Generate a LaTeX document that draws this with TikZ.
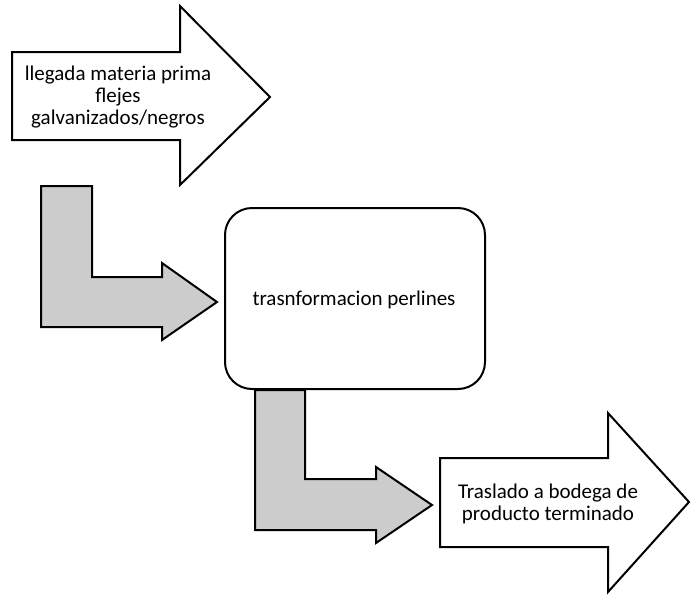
\documentclass[tikz,border=0pt]{standalone}
\usepackage{fontspec}
\setmainfont{Carlito}
\definecolor{arrowgray}{RGB}{204,204,204}
\begin{document}
\begin{tikzpicture}[x=1pt,y=-1pt,
  shapeline/.style={draw=black,line width=2pt,line join=miter},
  whitearrow/.style={shapeline,fill=white},
  grayarrow/.style={shapeline,fill=arrowgray},
  label/.style={font=\fontsize{21}{22}\selectfont,align=center,inner sep=0pt}]
\useasboundingbox (0,0) rectangle (691,598);
% top arrow
\draw[whitearrow] (12,52) -- (180,52) -- (180,6) -- (270,97) -- (180,185) -- (180,140) -- (12,140) -- cycle;
\node[label] (a) at (118,97) {llegada materia prima\\flejes\\galvanizados/negros};
% bent arrow 1
\draw[grayarrow] (41,186) -- (92,186) -- (92,277) -- (162,277) -- (162,263) -- (217,302) -- (162,340) -- (162,327) -- (41,327) -- cycle;
% rounded box
\draw[shapeline,rounded corners=27pt] (225,208) rectangle (485,389);
\node[label] (b) at (354,300) {trasnformacion perlines};
% bent arrow 2
\draw[grayarrow] (255,390) -- (305,390) -- (305,479) -- (376,479) -- (376,467) -- (432,505) -- (376,543) -- (376,530) -- (255,530) -- cycle;
% bottom arrow
\draw[whitearrow] (440,458) -- (608,458) -- (608,413) -- (689,502) -- (608,592) -- (608,547) -- (440,547) -- cycle;
\node[label] (c) at (548,504) {Traslado a bodega de\\producto terminado};
\end{tikzpicture}
\end{document}
